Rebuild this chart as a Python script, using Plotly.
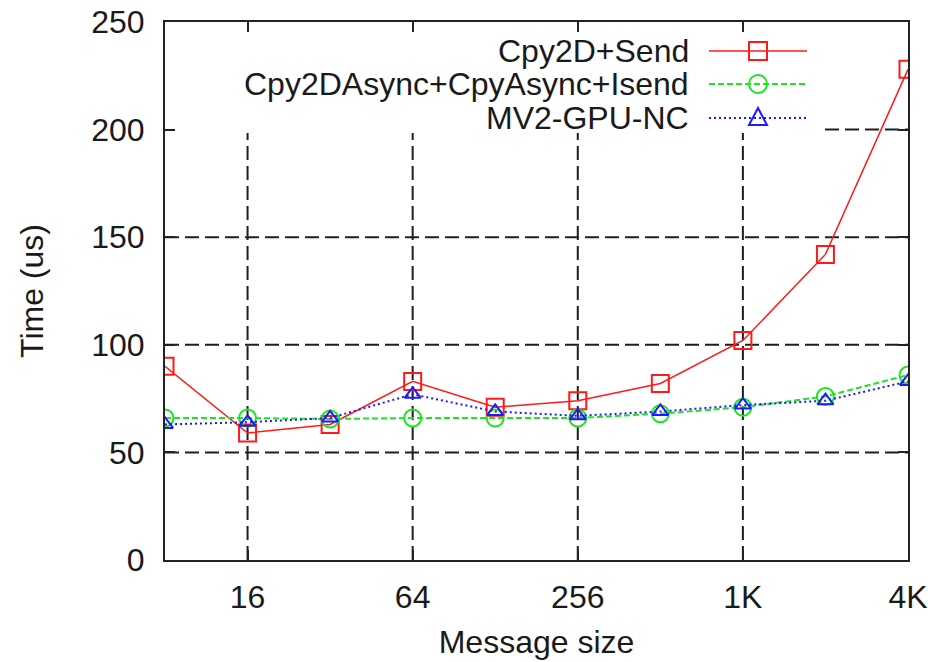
import math
import plotly.graph_objects as go

# Message sizes (bytes) and measured times (us)
sizes = [8, 16, 32, 64, 128, 256, 512, 1024, 2048, 4096]
cpy2d_send = [90, 59, 63, 83, 71, 74, 82, 102, 142, 228]
cpy2d_async = [66, 66, 65.5, 66, 66, 66, 68, 71, 76, 86]
mv2_gpu_nc = [63, 64, 66, 77, 69, 67, 69, 72, 74, 83]

series_names = ["Cpy2D+Send", "Cpy2DAsync+CpyAsync+Isend", "MV2-GPU-NC"]
x_tickvals = [16, 64, 256, 1024, 4096]
x_ticktext = ["16", "64", "256", "1K", "4K"]
y_tickvals = [0, 50, 100, 150, 200, 250]
y_range = [0, 250]

colors = ["#ff1a1a", "#1ee61e", "#1a1aff"]
dashes = ["solid", "6px,3px", "2px,3px"]
symbols = ["square-open", "circle-open", "triangle-up-open"]
widths = [1.5, 2, 2]

FONT = "Liberation Sans, Arial, Helvetica, sans-serif"
TXT = "#1a1a1a"
GRID = dict(color="#1e1e1e", width=2, dash="14px,6px")

W_FIG, H_FIG = 928, 662
L, R, T, B = 165, 908, 22, 560
PW, PH = R - L, B - T


def px(xp):
    return (xp - L) / PW


def py(yp):
    return (B - yp) / PH


fig = go.Figure()
for name, vals, c, d, s, w in zip(series_names, [cpy2d_send, cpy2d_async, mv2_gpu_nc],
                                  colors, dashes, symbols, widths):
    fig.add_trace(go.Scatter(
        x=sizes, y=vals, name=name, mode="lines+markers",
        line=dict(color=c, width=w, dash=d),
        marker=dict(symbol=s, size=17 if s != "triangle-up-open" else 14,
                    color=c, line=dict(color=c, width=2)),
        showlegend=False,
    ))

shapes = []
annotations = []

# dashed grid at the inner tick positions
x_lo, x_hi = sizes[0], sizes[-1]
for xv in x_tickvals:
    if x_lo < xv < x_hi:
        shapes.append(dict(type="line", xref="x", yref="y domain",
                           x0=xv, x1=xv, y0=0, y1=1, line=GRID, layer="below"))
for yv in y_tickvals:
    if y_range[0] < yv < y_range[1]:
        shapes.append(dict(type="line", xref="x domain", yref="y",
                           x0=0, x1=1, y0=yv, y1=yv, line=GRID, layer="below"))

# white key box hiding the grid behind the key
shapes.append(dict(type="rect", xref="paper", yref="paper",
                   x0=0, x1=px(825), y0=py(133), y1=1,
                   fillcolor="white", line=dict(width=0), layer="below"))

# key: right-aligned text, then line sample with its marker
rows_y = [51, 84, 118]
for name, c, d, s, w, ry in zip(series_names, colors, dashes, symbols, widths, rows_y):
    annotations.append(dict(text=name, xref="paper", yref="paper",
                            x=px(691), y=py(ry), xanchor="right", yanchor="middle",
                            showarrow=False, font=dict(family=FONT, size=32, color=TXT)))
    shapes.append(dict(type="line", xref="paper", yref="paper",
                       x0=px(709), x1=px(807), y0=py(ry), y1=py(ry),
                       line=dict(color=c, width=w, dash=d), layer="above"))
    cx, r = 758, 9
    if s == "square-open":
        shapes.append(dict(type="rect", xref="paper", yref="paper",
                           x0=px(cx - r), x1=px(cx + r), y0=py(ry + r), y1=py(ry - r),
                           line=dict(color=c, width=2), fillcolor="rgba(0,0,0,0)", layer="above"))
    elif s == "circle-open":
        shapes.append(dict(type="circle", xref="paper", yref="paper",
                           x0=px(cx - r), x1=px(cx + r), y0=py(ry + r), y1=py(ry - r),
                           line=dict(color=c, width=2), fillcolor="rgba(0,0,0,0)", layer="above"))
    else:
        path = "M {:.5f} {:.5f} L {:.5f} {:.5f} L {:.5f} {:.5f} Z".format(
            px(cx), py(ry - 10), px(cx - 9), py(ry + 7), px(cx + 9), py(ry + 7))
        shapes.append(dict(type="path", xref="paper", yref="paper", path=path,
                           line=dict(color=c, width=2), fillcolor="rgba(0,0,0,0)", layer="above"))

axis_common = dict(
    showline=True, linecolor="#222", linewidth=2, mirror="ticks",
    ticks="inside", ticklen=10, tickwidth=2, tickcolor="#222",
    showgrid=False, zeroline=False, automargin=False,
    tickfont=dict(family=FONT, size=32, color=TXT),
)

fig.update_layout(
    width=W_FIG, height=H_FIG,
    margin=dict(l=L, r=W_FIG - R, t=T, b=H_FIG - B),
    paper_bgcolor="white", plot_bgcolor="white",
    showlegend=False,
    xaxis=dict(type="log", range=[math.log10(x_lo), math.log10(x_hi)],
               tickmode="array", tickvals=x_tickvals, ticktext=x_ticktext,
               ticklabelstandoff=8,
               title=dict(text="Message size", font=dict(family=FONT, size=32, color=TXT),
                          standoff=16),
               **axis_common),
    yaxis=dict(range=y_range, tickmode="array", tickvals=y_tickvals,
               ticklabelstandoff=12,
               title=dict(text="Time (us)", font=dict(family=FONT, size=32, color=TXT),
                          standoff=38),
               **axis_common),
    shapes=shapes,
    annotations=annotations,
)

fig.write_html("out.html")
